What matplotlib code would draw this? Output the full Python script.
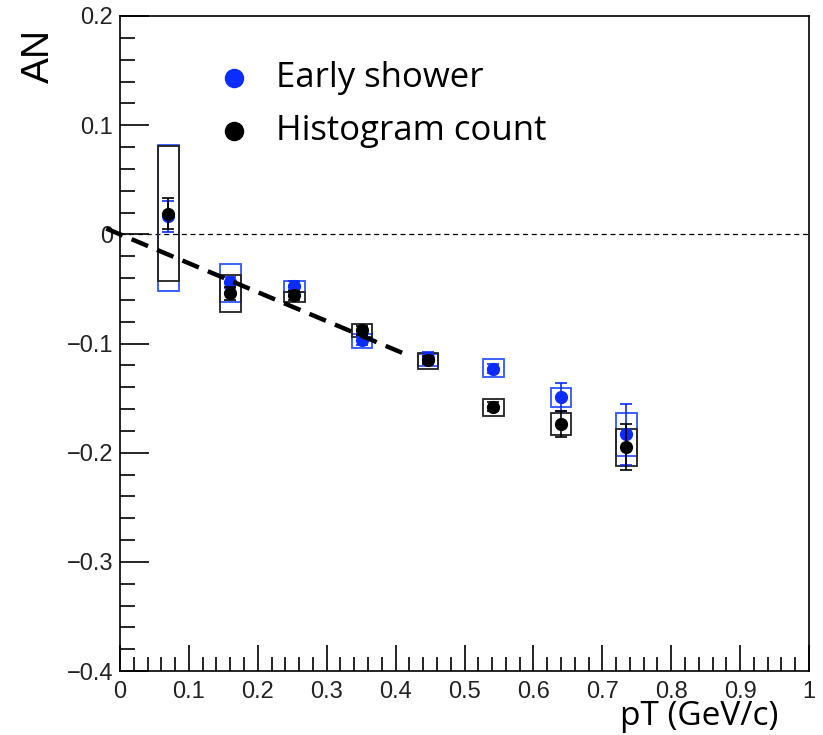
import matplotlib.pyplot as plt
from matplotlib.patches import Rectangle
from matplotlib.ticker import MultipleLocator

# pT bin centres (GeV/c)
pt = [0.07, 0.16, 0.253, 0.351, 0.447, 0.542, 0.640, 0.735]

# early shower method
an_early = [0.0165, -0.044, -0.047, -0.097, -0.113, -0.123, -0.149, -0.183]
stat_early = [0.014, 0.005, 0.004, 0.004, 0.005, 0.004, 0.013, 0.028]
sys_lo_early = [-0.052, -0.062, -0.053, -0.104, -0.121, -0.131, -0.158, -0.203]
sys_hi_early = [0.0815, -0.027, -0.043, -0.091, -0.110, -0.114, -0.141, -0.164]

# histogram count method
an_hist = [0.019, -0.054, -0.056, -0.088, -0.115, -0.158, -0.174, -0.195]
stat_hist = [0.014, 0.006, 0.004, 0.004, 0.004, 0.004, 0.012, 0.021]
sys_lo_hist = [-0.043, -0.071, -0.062, -0.094, -0.123, -0.166, -0.184, -0.212]
sys_hi_hist = [0.081, -0.037, -0.053, -0.082, -0.109, -0.151, -0.164, -0.178]

# linear fit to the low-pT points
fit_x = [-0.02, 0.41]
fit_slope = -0.265

BLUE = '#0a2cff'
BOX_BLUE = '#2f55ff'
BOX_HALF = 0.015

TICK_FONT = ['Liberation Sans', 'DejaVu Sans']
TEXT_FONT = ['Open Sans', 'DejaVu Sans']

fig = plt.figure(figsize=(8.23, 7.35), dpi=100)
fig.set_facecolor('white')
ax = fig.add_axes([120 / 823, 64 / 735, 689 / 823, 655 / 735])

ax.set_xlim(0, 1)
ax.set_ylim(-0.4, 0.2)

# zero line
ax.axhline(0, color='black', lw=0.9, ls=(0, (4, 3)), zorder=1)

# systematic boxes
def draw_boxes(lo, hi, color):
    for x, a, b in zip(pt, lo, hi):
        ax.add_patch(Rectangle((x - BOX_HALF, a), 2 * BOX_HALF, b - a,
                               fill=False, edgecolor=color, lw=1.3, zorder=2))

draw_boxes(sys_lo_early, sys_hi_early, BOX_BLUE)
draw_boxes(sys_lo_hist, sys_hi_hist, '#222222')

ax.errorbar(pt, an_early, yerr=stat_early, fmt='o', color=BLUE, ms=8.5,
            elinewidth=1.2, capsize=4, capthick=1.2, zorder=3)
ax.errorbar(pt, an_hist, yerr=stat_hist, fmt='o', color='black', ms=8.5,
            elinewidth=1.2, capsize=4, capthick=1.2, zorder=4)

# fit line
ax.plot(fit_x, [fit_slope * x for x in fit_x], color='black', lw=3.2,
        ls=(0, (4, 2.2)), clip_on=False, zorder=5)

# legend drawn by hand, borderless like a ROOT TLegend
ax.plot([0.165], [0.143], 'o', color=BLUE, ms=13, clip_on=False)
ax.plot([0.165], [0.0944], 'o', color='black', ms=13, clip_on=False)
ax.text(0.226, 0.143, 'Early shower', fontsize=25, family=TEXT_FONT, va='center')
ax.text(0.226, 0.0944, 'Histogram count', fontsize=25, family=TEXT_FONT, va='center')

# ticks: inside, bottom and left only
ax.xaxis.set_major_locator(MultipleLocator(0.1))
ax.xaxis.set_minor_locator(MultipleLocator(0.02))
ax.yaxis.set_major_locator(MultipleLocator(0.1))
ax.yaxis.set_minor_locator(MultipleLocator(0.02))
ax.tick_params(which='both', direction='in', top=False, right=False, width=1.2, color='black')
ax.tick_params(axis='x', which='major', length=19, pad=7)
ax.tick_params(axis='x', which='minor', length=10)
ax.tick_params(axis='y', which='major', length=21, pad=5)
ax.tick_params(axis='y', which='minor', length=11)

ax.set_xticks([i / 10 for i in range(11)])
ax.set_xticklabels(['0', '0.1', '0.2', '0.3', '0.4', '0.5', '0.6', '0.7', '0.8', '0.9', '1'],
                   family=TICK_FONT, fontsize=17, color='#222222')
ax.set_yticks([0.2, 0.1, 0, -0.1, -0.2, -0.3, -0.4])
ax.set_yticklabels(['0.2', '0.1', '0', '\u22120.1', '\u22120.2', '\u22120.3', '\u22120.4'],
                   family=TICK_FONT, fontsize=17, color='#222222')

for s in ax.spines.values():
    s.set_linewidth(1.2)

fig.text(778 / 823, 2 / 735, 'pT (GeV/c)', fontsize=24, family=TEXT_FONT,
         ha='right', va='bottom')
fig.text(39 / 823, 1 - 29 / 735, 'AN', fontsize=28, family=TICK_FONT, rotation=90,
         ha='center', va='top')

fig.savefig('out.png', dpi=100, facecolor='white')
